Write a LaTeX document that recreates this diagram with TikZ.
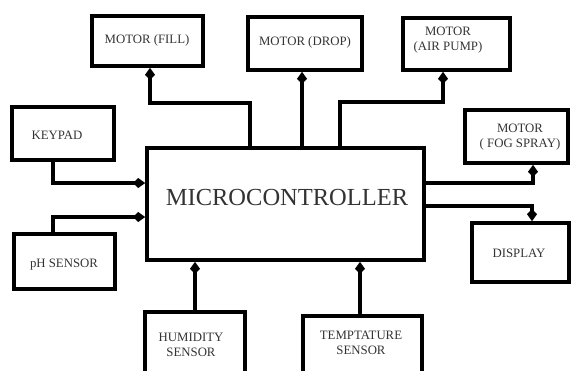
\documentclass[tikz,border=0pt]{standalone}
\usepackage{fontspec}
\setmainfont{Liberation Serif}
\usetikzlibrary{arrows.meta}
\begin{document}
\begin{tikzpicture}[x=1pt,y=-1pt,
  box/.style={draw, line width=3.6pt, inner sep=0pt},
  con/.style={line width=3.2pt, -{Kite[length=12pt,width=10pt,inset=5pt]}},
  lbl/.style={font=\fontsize{12.8}{14.5}\selectfont, align=center, inner sep=0pt, text=black!80}]
\useasboundingbox (0,0) rectangle (571,370);
\clip (0,0) rectangle (571,370);
% boxes
\node[box, minimum width=111pt, minimum height=50pt] (fill) at (147.5,41) {};
\node[box, minimum width=114pt, minimum height=53pt] (drop) at (305,43.5) {};
\node[box, minimum width=107pt, minimum height=52pt] (air) at (456.5,44) {};
\node[box, minimum width=103pt, minimum height=53pt] (fog) at (516.5,136.5) {};
\node[box, minimum width=277pt, minimum height=112pt] (micro) at (285.5,204) {};
\node[box, minimum width=102pt, minimum height=53pt] (keypad) at (63,133.5) {};
\node[box, minimum width=101pt, minimum height=55pt] (ph) at (64.5,261.5) {};
\node[box, minimum width=100pt, minimum height=73pt] (hum) at (195,348.5) {};
\node[box, minimum width=119pt, minimum height=69pt] (temp) at (362.5,350.5) {};
\node[box, minimum width=97pt, minimum height=59pt] (display) at (520.5,252.5) {};
% labels
\node[lbl] (tfill) at (147,40) {MOTOR (FILL)};
\node[lbl] (tdrop) at (305,42) {MOTOR (DROP)};
\node[lbl] (tair) at (448,40) {MOTOR\\(AIR PUMP)};
\node[lbl] (tfog) at (520,137) {MOTOR\\( FOG SPRAY)};
\node[lbl] (tkey) at (57,135) {KEYPAD};
\node[lbl] (tph) at (64,265) {pH SENSOR};
\node[lbl] (thum) at (191,345) {HUMIDITY\\SENSOR};
\node[lbl] (ttemp) at (361,343) {TEMPTATURE\\SENSOR};
\node[lbl] (tdisp) at (519,253) {DISPLAY};
\node[lbl, font=\fontsize{24.5}{28}\selectfont] (tmicro) at (287,198) {MICROCONTROLLER};
% connectors
\draw[con] (250,0 |- micro.north) -- (250,103) -| (150,0 |- fill.south);
\draw[con] (302,0 |- micro.north) -- (302,0 |- drop.south);
\draw[con] (340,0 |- micro.north) -- (340,102) -| (443,0 |- air.south);
\draw[con] (micro.east |- 0,183) -| (533,0 |- fog.south);
\draw[con] (micro.east |- 0,206) -| (532,0 |- display.north);
\draw[con] (53,0 |- keypad.south) |- (micro.west |- 0,183);
\draw[con] (53,0 |- ph.north) |- (micro.west |- 0,217);
\draw[con] (195,0 |- hum.north) -- (195,0 |- micro.south);
\draw[con] (360,0 |- temp.north) -- (360,0 |- micro.south);
\end{tikzpicture}
\end{document}
